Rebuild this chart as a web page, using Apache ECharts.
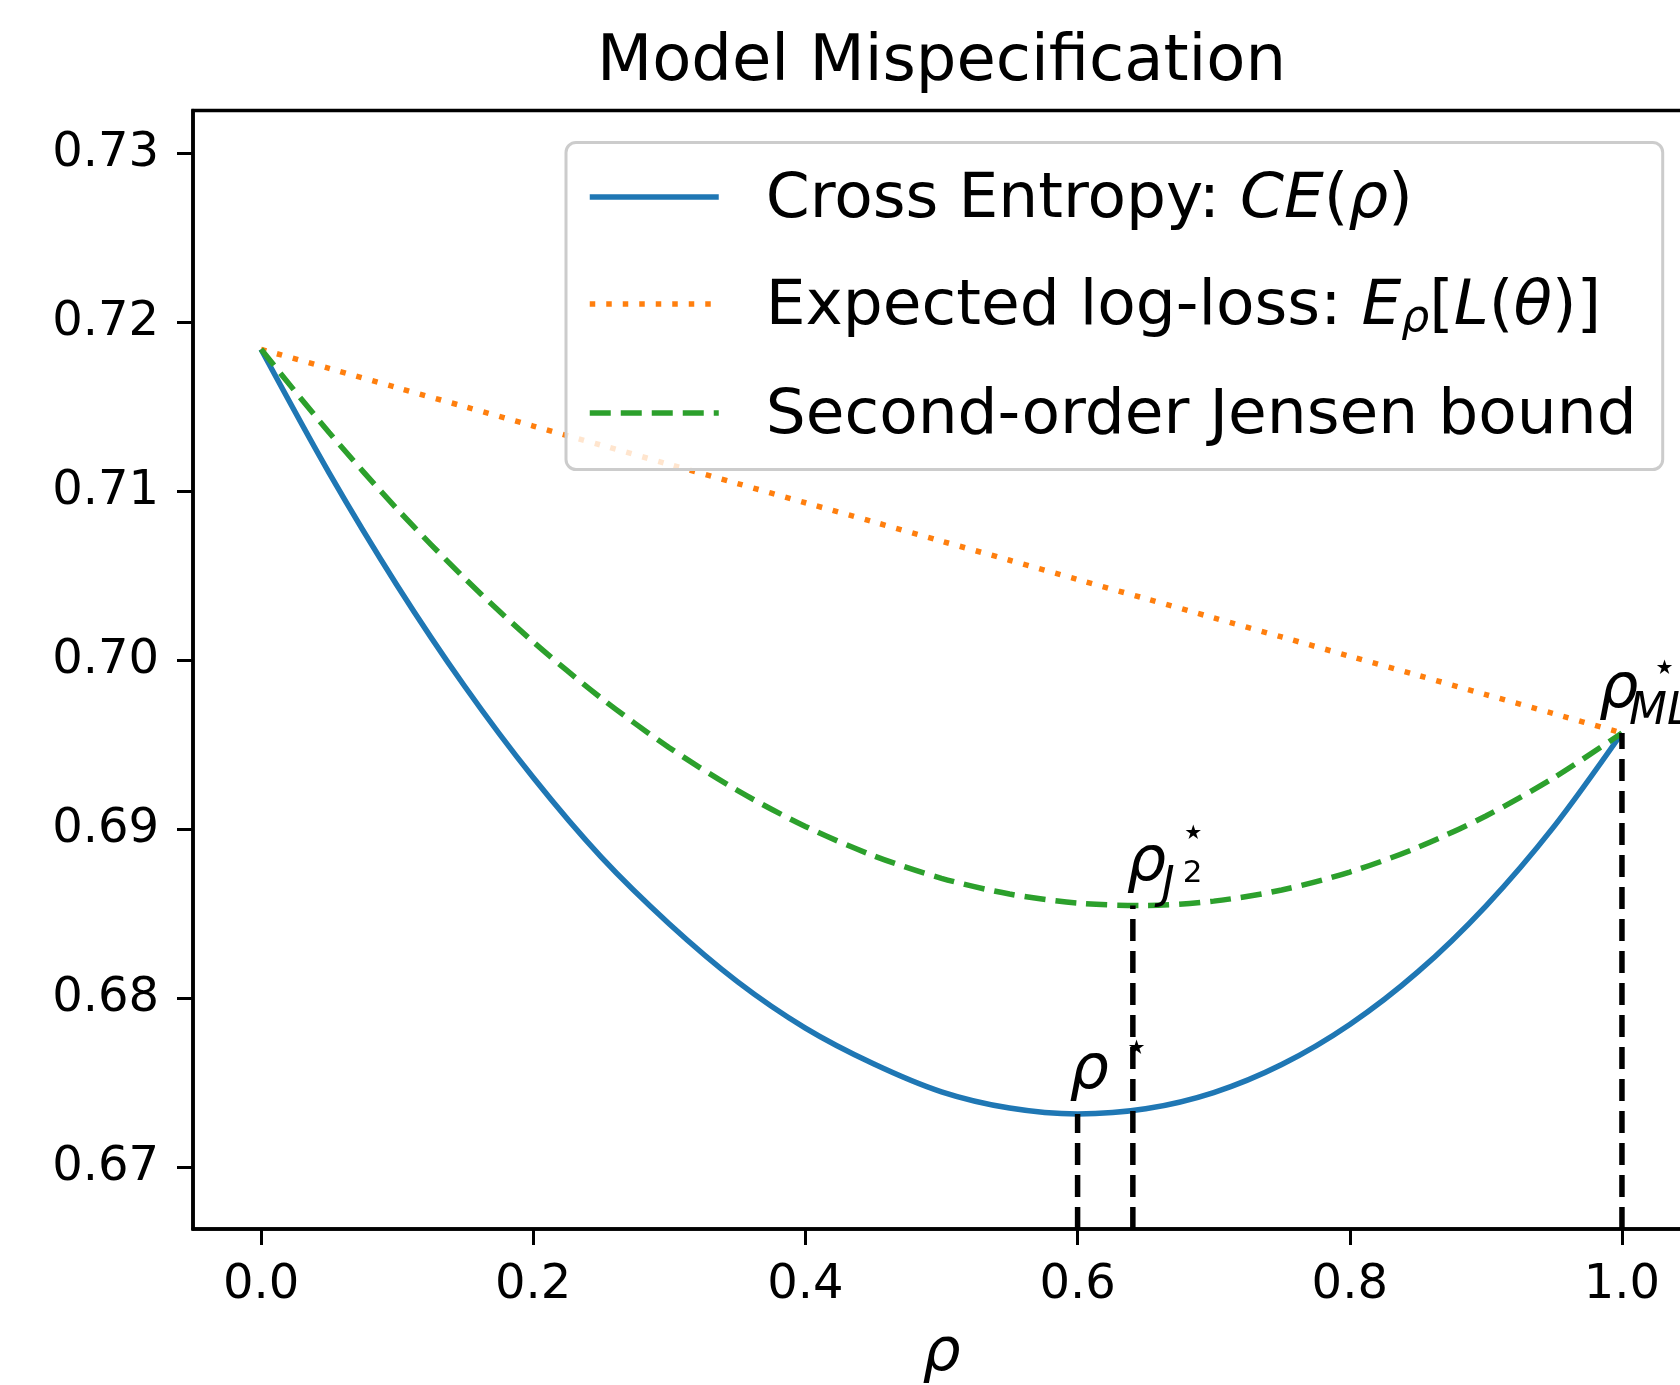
<!DOCTYPE html>
<html>
<head>
<meta charset="utf-8">
<script src="https://cdn.jsdelivr.net/npm/echarts@6/dist/echarts.min.js"></script>
<style>html,body{margin:0;padding:0;background:#fff}#c{width:1680px;height:1385px}</style>
</head>
<body>
<div id="c"></div>
<script>
// ---- data ----
const rho = [0, 0.05, 0.1, 0.15, 0.2, 0.25, 0.3, 0.35, 0.4, 0.45, 0.5, 0.55, 0.6, 0.65, 0.7, 0.75, 0.8, 0.85, 0.9, 0.95, 1.0];
const crossEntropy = [0.71840, 0.71109, 0.70443, 0.69842, 0.69306, 0.68835, 0.68440, 0.68099, 0.67824, 0.67613, 0.67447, 0.67351, 0.67316, 0.67346, 0.67442, 0.67608, 0.67845, 0.68156, 0.68546, 0.69016, 0.69570];
const expectedLogLoss = [0.71840, 0.71727, 0.71613, 0.71500, 0.71386, 0.71273, 0.71159, 0.71046, 0.70932, 0.70819, 0.70705, 0.70592, 0.70478, 0.70365, 0.70251, 0.70138, 0.70024, 0.69911, 0.69797, 0.69684, 0.69570];
const jensenBound = [0.71840, 0.71348, 0.70895, 0.70482, 0.70109, 0.69776, 0.69483, 0.69230, 0.69017, 0.68844, 0.68710, 0.68617, 0.68563, 0.68549, 0.68575, 0.68641, 0.68747, 0.68893, 0.69079, 0.69305, 0.69570];
const markerRho = [0.6, 0.6406, 1.0];          // rho*, rho*_J2, rho*_ML
const markerTop = [0.67316, 0.68549, 0.69570];
const xTicks = [0.0, 0.2, 0.4, 0.6, 0.8, 1.0];
const yTicks = [0.67, 0.68, 0.69, 0.70, 0.71, 0.72, 0.73];
const xMin = -0.05, xMax = 1.05;
const yMin = 0.66635, yMax = 0.73253;
const seriesNames = ['Cross Entropy', 'Expected log-loss', 'Second-order Jensen bound'];

const FONT = 'DejaVu Sans';
const LW = 5.5;

const chart = echarts.init(document.getElementById('c'), null, {renderer: 'canvas', width: 1680, height: 1385});

function curve(name, ys, color, type) {
  return {
    name: name, type: 'line', data: rho.map((r, i) => [r, ys[i]]),
    symbol: 'none', showSymbol: false, smooth: 0.3, silent: true,
    lineStyle: {color: color, width: LW, type: type, cap: 'butt'},
    itemStyle: {color: color}, z: 2
  };
}

const vlines = markerRho.map((x, i) => ({
  type: 'line', data: [[x, yMin], [x, markerTop[i]]], symbol: 'none', silent: true,
  lineStyle: {color: '#000', width: LW, type: [22, 10], cap: 'butt'}, z: 4
}));

const legendText = {
  'Cross Entropy': '{sp| }{n|Cross Entropy: }{i|CE}{n|(}{i|ρ}{n|)}',
  'Expected log-loss': '{sp| }{n|Expected log-loss: }{i|E}{sub|ρ}{n|[}{i|L}{n|(}{i|θ}{n|)]}',
  'Second-order Jensen bound': '{sp| }{n|Second-order Jensen bound}'
};

const labBase = {fontFamily: FONT, color: '#000', lineHeight: 62, textBorderWidth: 0, textBorderColor: 'transparent', opacity: 1};
function lab(extra) { return Object.assign({}, labBase, extra); }

const option = {
  animation: false,
  backgroundColor: '#fff',
  title: {
    text: 'Model Mispecification', left: 941.5, top: 31, padding: 0, textAlign: 'center',
    textStyle: {fontFamily: FONT, fontSize: 64, fontWeight: 'normal', color: '#000', lineHeight: 64}
  },
  legend: {
    data: seriesNames, orient: 'vertical', left: 566, top: 142.5,
    padding: [23, 26, 21, 21], itemWidth: 129, itemHeight: 2, itemGap: 40,
    backgroundColor: 'rgba(255,255,255,0.8)', borderColor: '#cccccc', borderWidth: 3, borderRadius: 10,
    lineStyle: {width: LW},
    itemStyle: {opacity: 0, borderWidth: 0},
    formatter: function (name) { return legendText[name]; },
    textStyle: {
      fontFamily: FONT, fontSize: 63, color: '#000', lineHeight: 63,
      rich: {
        sp: {width: 42, height: 63, fontSize: 20, lineHeight: 63},
        n: {fontFamily: FONT, fontSize: 63, color: '#000', lineHeight: 63, height: 55, padding: [8, 0, 0, 0]},
        i: {fontFamily: FONT, fontSize: 63, fontStyle: 'italic', color: '#000', lineHeight: 63, height: 55, padding: [8, 0, 0, 0]},
        sub: {fontFamily: FONT, fontSize: 44, fontStyle: 'italic', color: '#000', lineHeight: 63, height: 32, padding: [31, 0, 0, 0]}
      }
    }
  },
  grid: {left: 193, top: 110.5, width: 1497, height: 1118.5, show: true, borderColor: '#000', borderWidth: 3.5, backgroundColor: 'transparent', containLabel: false, outerBoundsMode: 'none'},
  xAxis: {
    type: 'value', min: xMin, max: xMax,
    name: 'ρ', nameLocation: 'middle', nameGap: 95, nameMoveOverlap: false,
    nameTextStyle: {fontFamily: FONT, fontSize: 60, fontStyle: 'italic', color: '#000', lineHeight: 60},
    axisLine: {show: true, onZero: false, lineStyle: {color: '#000', width: 3.5}},
    axisTick: {show: true, length: 16, lineStyle: {color: '#000', width: 3}, customValues: xTicks},
    axisLabel: {show: true, margin: 33, fontFamily: FONT, fontSize: 48, color: '#000', lineHeight: 48,
      customValues: xTicks, formatter: v => v.toFixed(1)},
    splitLine: {show: false}
  },
  yAxis: {
    type: 'value', min: yMin, max: yMax,
    axisLine: {show: true, onZero: false, lineStyle: {color: '#000', width: 3.5}},
    axisTick: {show: true, length: 16, lineStyle: {color: '#000', width: 3}, customValues: yTicks},
    axisLabel: {show: true, margin: 34, fontFamily: FONT, fontSize: 48, color: '#000', lineHeight: 48,
      padding: [7, 0, 0, 0], customValues: yTicks, formatter: v => v.toFixed(2)},
    splitLine: {show: false}
  },
  series: [
    curve(seriesNames[0], crossEntropy, '#1f77b4', 'solid'),
    curve(seriesNames[1], expectedLogLoss, '#ff7f0e', [5.5, 11]),
    curve(seriesNames[2], jensenBound, '#2ca02c', [21, 10])
  ].concat(vlines).concat([{
    type: 'scatter', symbolSize: 0, silent: true, z: 6,
    itemStyle: {color: '#000', opacity: 1},
    label: {
      show: true, position: [0, 0], align: 'left', verticalAlign: 'middle', color: '#000',
      fontFamily: FONT, lineHeight: 62, opacity: 1, textBorderWidth: 0, textBorderColor: 'transparent',
      rich: {
        r: lab({fontSize: 62, fontStyle: 'italic', height: 62}),
        rj: lab({fontSize: 62, fontStyle: 'italic', height: 62, width: 35}),
        rm: lab({fontSize: 62, fontStyle: 'italic', height: 62, width: 30}),
        st: lab({fontSize: 40, height: 18, padding: [0, 0, 44, 15]}),
        st2: lab({fontSize: 40, height: 9, padding: [0, 0, 53, 0]}),
        st3: lab({fontSize: 40, height: 21, padding: [0, 0, 41, 0]}),
        sb: lab({fontSize: 44, fontStyle: 'italic', height: 15, padding: [47, 0, 0, 0]}),
        sbm: lab({fontSize: 44, fontStyle: 'italic', height: 19, padding: [43, 0, 0, 0]}),
        ss: lab({fontSize: 31, height: 42, padding: [20, 0, 0, 8]})
      }
    },
    data: [
      {value: [markerRho[0], markerTop[0]], label: {formatter: '{r|ρ}{st|⋆}', offset: [-8, -42]}},
      {value: [markerRho[1], markerTop[1]], label: {formatter: '{rj|ρ}{sb|J}{ss|2}', offset: [-6, -42]}},
      {value: [markerRho[1], markerTop[1]], label: {formatter: '{st2|⋆}', offset: [48, -44]}},
      {value: [markerRho[2], markerTop[2]], label: {formatter: '{rm|ρ}{sbm|ML}', offset: [-23, -42]}},
      {value: [markerRho[2], markerTop[2]], label: {formatter: '{st3|⋆}', offset: [30, -43]}}
    ]
  }])
};
chart.setOption(option);
</script>
</body>
</html>
